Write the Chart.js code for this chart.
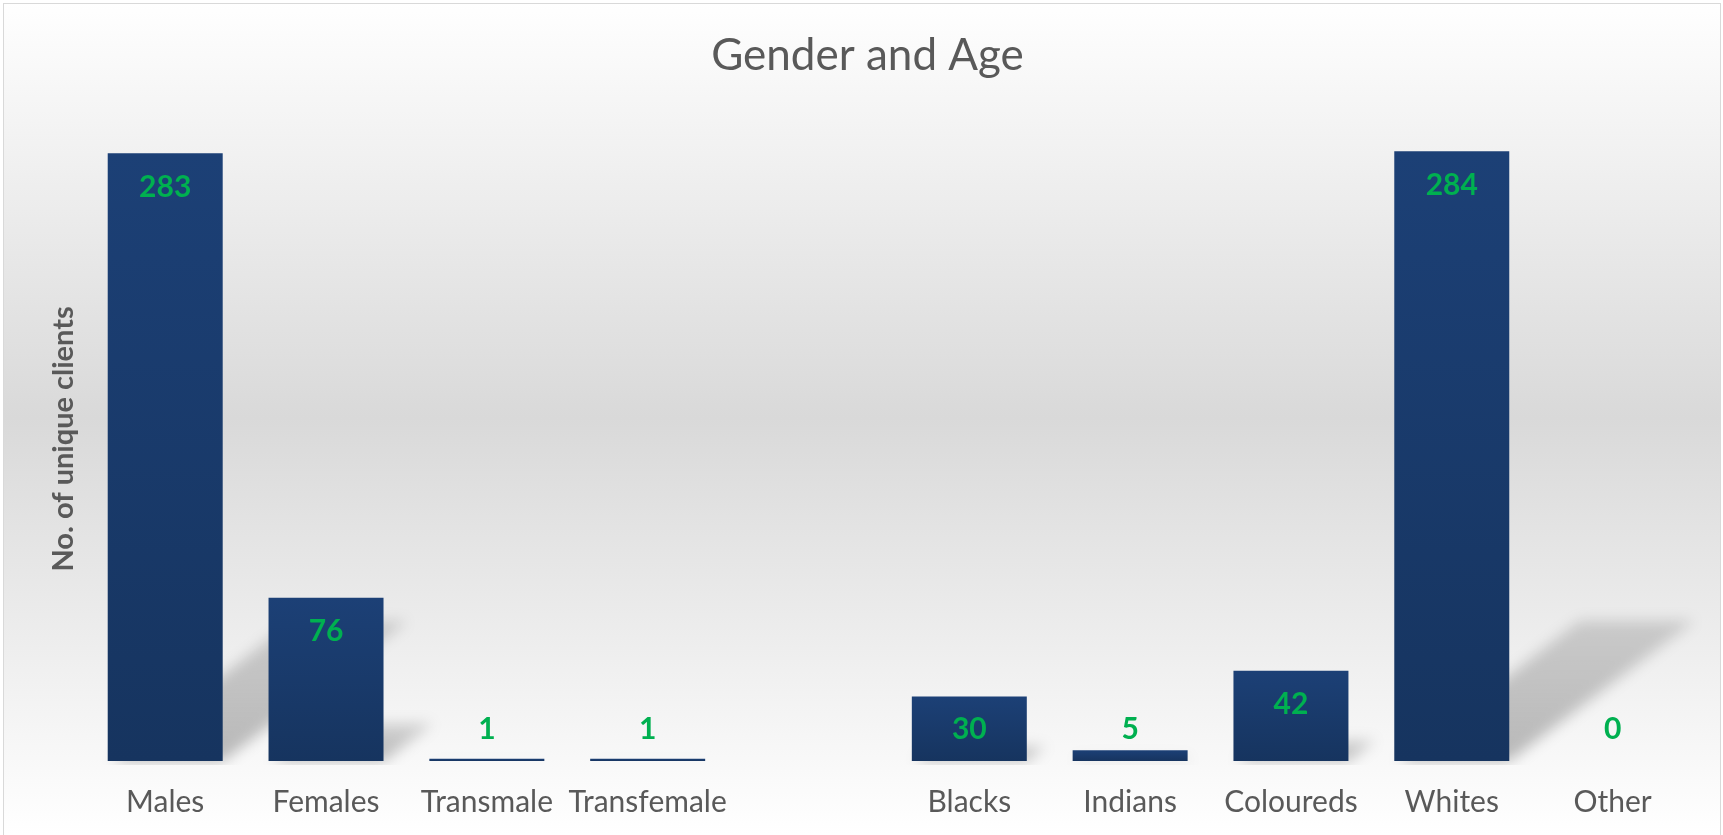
<!DOCTYPE html>
<html>
<head>
<meta charset="utf-8">
<title>Gender and Age</title>
<script src="https://cdn.jsdelivr.net/npm/chart.js@4.4.1/dist/chart.umd.min.js"></script>
<style>
  html, body { margin: 0; padding: 0; background: #fff; }
  #wrap { width: 1723px; height: 835px; }
</style>
</head>
<body>
<div id="wrap"><canvas id="chart-gender-age" width="1723" height="835"></canvas></div>
<script>
// data (empty slot separates gender from race)
const categories = ["Males", "Females", "Transmale", "Transfemale", "", "Blacks", "Indians", "Coloureds", "Whites", "Other"];
const clients = [283, 76, 1, 1, null, 30, 5, 42, 284, 0];
const yMax = 300;

const textGrey = "#595959";
const labelGreen = "#00b050";

// page background + thin frame like the excel chart area
const backdrop = {
  id: "backdrop",
  beforeDraw(chart) {
    const c = chart.ctx;
    const g = c.createLinearGradient(0, 0, 0, chart.height);
    g.addColorStop(0, "#ffffff");
    g.addColorStop(0.5, "#d9d9d9");
    g.addColorStop(1, "#ffffff");
    c.save();
    c.fillStyle = g;
    c.fillRect(4, 4, chart.width - 7, chart.height);
    c.strokeStyle = "#d9d9d9";
    c.lineWidth = 1;
    c.strokeRect(3.5, 3.5, chart.width - 6, chart.height + 5);
    c.restore();
  }
};

// slanted perspective shadows behind bars
const barShadows = {
  id: "barShadows",
  beforeDatasetsDraw(chart) {
    const c = chart.ctx;
    const meta = chart.getDatasetMeta(0);
    c.save();
    c.beginPath();
    c.rect(chart.chartArea.left, 0, chart.chartArea.right + 10 - chart.chartArea.left, chart.chartArea.bottom + 4);
    c.clip();
    c.filter = "blur(7px)";
    meta.data.forEach((bar, i) => {
      if (clients[i] == null || !clients[i]) return;
      const h = bar.base - bar.y;
      const hs = h * 0.23;
      const shift = hs * 1.32;
      const l = bar.x - bar.width / 2, r = bar.x + bar.width / 2;
      const g = c.createLinearGradient(0, bar.base, 0, bar.base - hs);
      g.addColorStop(0, "rgba(0,0,0,0.26)");
      g.addColorStop(1, "rgba(0,0,0,0.14)");
      c.fillStyle = g;
      c.beginPath();
      c.moveTo(l + 4, bar.base);
      c.lineTo(r, bar.base);
      c.lineTo(r + shift, bar.base - hs);
      c.lineTo(l + shift, bar.base - hs);
      c.closePath();
      c.fill();
    });
    c.restore();
  }
};

// green values at the inside end of each bar
const valueLabels = {
  id: "valueLabels",
  afterDatasetsDraw(chart) {
    const c = chart.ctx;
    const meta = chart.getDatasetMeta(0);
    c.save();
    c.font = "bold 30px Lato";
    c.fillStyle = labelGreen;
    c.textAlign = "center";
    c.textBaseline = "middle";
    meta.data.forEach((bar, i) => {
      if (clients[i] == null) return;
      const y = Math.min(bar.y + 34, bar.base - 32);
      c.fillText(String(clients[i]), bar.x, y);
    });
    c.restore();
  }
};

function barFill(ctx) {
  const chart = ctx.chart;
  const ys = chart.scales.y;
  if (!ys || ctx.raw == null) return "#1a3b6c";
  const top = ys.getPixelForValue(ctx.raw);
  const base = ys.getPixelForValue(0);
  if (!isFinite(top) || !isFinite(base) || base - top < 1) return "#1a3b6c";
  const g = chart.ctx.createLinearGradient(0, top, 0, base);
  g.addColorStop(0, "#1c4076");
  g.addColorStop(1, "#16345f");
  return g;
}

Chart.defaults.font.family = "Lato";
Chart.defaults.color = textGrey;

new Chart(document.getElementById("chart-gender-age"), {
  type: "bar",
  data: {
    labels: categories,
    datasets: [
      {
        label: "No. of unique clients",
        data: clients,
        backgroundColor: barFill,
        borderWidth: 0,
        categoryPercentage: 1,
        barPercentage: 0.715,
      },
    ],
  },
  options: {
    responsive: false,
    animation: false,
    layout: {
      padding: { left: 42, right: 30, top: 0, bottom: -8 },
    },
    plugins: {
      legend: { display: false },
      tooltip: { enabled: false },
      title: {
        display: true,
        text: "Gender and Age",
        color: textGrey,
        font: { size: 44, weight: "normal" },
        padding: { top: 29, bottom: 35 },
      },
    },
    scales: {
      x: {
        grid: { display: false, drawTicks: false },
        border: { display: false },
        ticks: {
          color: textGrey,
          font: { size: 30 },
          padding: 23,
          autoSkip: false,
          maxRotation: 0,
        },
      },
      y: {
        min: 0,
        max: yMax,
        grid: { display: false, drawTicks: false },
        border: { display: false },
        ticks: { display: false },
        title: {
          display: true,
          text: "No. of unique clients",
          color: textGrey,
          font: { size: 29, weight: "bold" },
          padding: { top: 4, bottom: 4 },
        },
      },
    },
  },
  plugins: [backdrop, barShadows, valueLabels],
});
</script>
</body>
</html>
